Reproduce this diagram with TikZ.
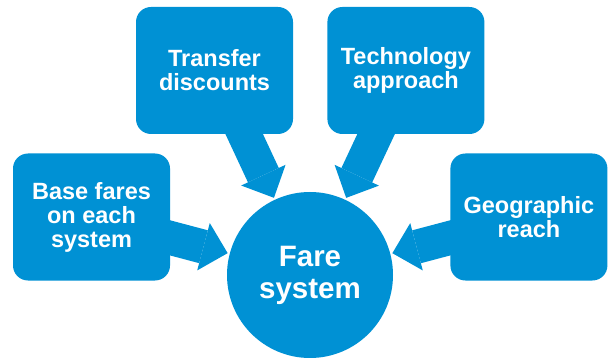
\documentclass[tikz,border=0pt]{standalone}
\usepackage{fontspec}
\setmainfont{Liberation Sans}
\usetikzlibrary{positioning}
\usetikzlibrary{arrows.meta}
\usetikzlibrary{backgrounds}
\definecolor{fareC}{RGB}{0,145,212}
\tikzstyle{topic}=[fill=fareC, text=white, shape=rectangle, rounded corners=15pt, minimum width=157pt, minimum height=127pt, inner sep=0pt, align=center, font=\bfseries\fontsize{23.5}{24}\selectfont]
\tikzstyle{hub}=[fill=fareC, text=white, shape=circle, minimum size=166pt, inner sep=0pt, align=center, font=\bfseries\fontsize{29.5}{32}\selectfont]
\tikzstyle{farrow}=[line width=34pt, color=fareC, shorten >=2pt, -{Triangle[width=49pt,length=25pt,line width=0pt]}]
\def\topic{\node[style=topic]}
\def\hub{\node[style=hub]}
\def\farrow{\draw[style=farrow]}

\begin{document}
\begin{tikzpicture}[x=1pt, y=-1pt]
      \useasboundingbox (0,0) rectangle (613,358);
      % centre
      \hub (fare) at (310,275) {Fare\\system};
      % upper row
      \topic (transfer) at (214.5,70.5)        {Transfer\\discounts};
      \topic (techno)   [right=34pt of transfer] {Technology\\approach};
      % lower row
      \topic (base)     at (91.5,217)          {Base fares\\on each\\system};
      \topic (geo)      [right=280pt of base]  {Geographic\\reach};

      \begin{scope}[on background layer]
      \farrow (transfer.center) -- (fare);
      \farrow (techno.center)   -- (fare);
      \farrow (base.center)     -- (fare);
      \farrow (geo.center)      -- (fare);
      \end{scope}
\end{tikzpicture}
\end{document}
